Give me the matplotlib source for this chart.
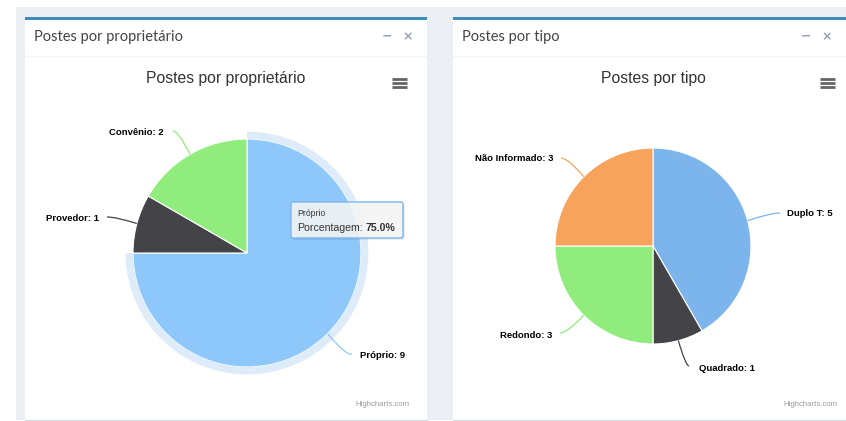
#!/usr/bin/env python3
"""Dashboard with two Highcharts-style pie panels (postes)."""

import math

import matplotlib

matplotlib.use("Agg")
import matplotlib.pyplot as plt
from matplotlib.patches import Rectangle, Wedge, FancyBboxPatch, PathPatch
from matplotlib.path import Path

# data
owner_labels = ["Próprio", "Provedor", "Convênio"]
owner_values = [9, 1, 2]
type_labels = ["Duplo T", "Quadrado", "Redondo", "Não Informado"]
type_values = [5, 1, 3, 3]

BLUE = "#7cb5ec"
BLUE_HOVER = "#8ec8fa"
DARK = "#434348"
GREEN = "#90ed7d"
ORANGE = "#f7a35c"
owner_colors = [BLUE_HOVER, DARK, GREEN]
type_colors = [BLUE, DARK, GREEN, ORANGE]

W, H = 846, 421
SPAN = 1.45
fig = plt.figure(figsize=(W / 100, H / 100), dpi=100)
fig.patch.set_facecolor("white")

bg = fig.add_axes([0, 0, 1, 1])
bg.set_xlim(0, W)
bg.set_ylim(H, 0)
bg.axis("off")

# page background + panels
bg.add_patch(Rectangle((16, 7), W - 16, 413, color="#ecf0f5", lw=0))
panels = [(25, 427, "Postes por proprietário"), (453, 846, "Postes por tipo")]
for x0, x1, title in panels:
    bg.add_patch(Rectangle((x0, 17), x1 - x0, 403, facecolor="white", edgecolor="none"))
    bg.add_patch(Rectangle((x0, 17), x1 - x0, 3, color="#3c8dbc", lw=0))
    bg.plot([x0, x1], [55.5, 55.5], color="#f4f4f4", lw=1)
    bg.plot([x0, x1], [420, 420], color="#d2d6de", lw=0.8)
    bg.text(x0 + 9, 37, title, fontsize=10.5, family="Lato", color="#444444", va="center")
    bg.text(x1 - 40, 36, "−", fontsize=9, color="#97a0b3", va="center", ha="center",
            fontweight="bold")
    bg.text(x1 - 19, 37, "×", fontsize=9, color="#97a0b3", va="center", ha="center",
            fontweight="bold")


def pie_axes(cx, cy, r):
    ax = fig.add_axes([(cx - SPAN * r) / W, (H - cy - SPAN * r) / H,
                       2 * SPAN * r / W, 2 * SPAN * r / H])
    ax.axis("off")
    return ax


def label(ax, wedge, text, pos, ha, elbow):
    mid = math.radians((wedge.theta1 + wedge.theta2) / 2)
    px, py = math.cos(mid), math.sin(mid)
    ctrl = (elbow[0] + 0.3 * (px - elbow[0]), elbow[1])
    conn = Path([elbow, ctrl, (px, py)], [Path.MOVETO, Path.CURVE3, Path.CURVE3])
    ax.add_patch(PathPatch(conn, facecolor="none", edgecolor=wedge.get_facecolor(),
                           lw=0.9, clip_on=False))
    ax.text(pos[0], pos[1], text, ha=ha, va="center", fontsize=6.8,
            fontweight="bold", family="Liberation Sans", color="#000000")


def chart(cx, cy, r, title, title_x, menu_x, credit_x, values, labels, colors,
          placements, halo=None):
    ax = pie_axes(cx, cy, r)
    wedges, _ = ax.pie(values, colors=colors, startangle=90, counterclock=False,
                       wedgeprops=dict(edgecolor="white", linewidth=0.8))
    ax.set_xlim(-SPAN, SPAN)
    ax.set_ylim(-SPAN, SPAN)
    if halo is not None:
        w = wedges[halo]
        ax.add_patch(Wedge((0, 0), 1.065, w.theta1, w.theta2, width=0.065,
                           facecolor=BLUE, alpha=0.25, lw=0))
    for w, lab, val, (pos, ha, elbow) in zip(wedges, labels, values, placements):
        label(ax, w, f"{lab}: {val}", pos, ha, elbow)
    bg.text(title_x, 78, title, ha="center", va="center",
            fontsize=11.3, family="Liberation Sans", color="#333333")
    for y in (78.5, 82.7, 86.8):
        bg.plot([menu_x, menu_x + 15], [y, y], color="#666666", lw=2.0,
                solid_capstyle="butt")
    bg.text(credit_x, 405, "Highcharts.com", ha="right", va="center", fontsize=5.6,
            family="Liberation Sans", color="#999999")
    return ax


owner_place = [
    ((0.99, -0.895), "left", (0.92, -0.89)),
    ((-1.298, 0.307), "right", (-1.228, 0.316)),
    ((-0.728, 1.053), "right", (-0.649, 1.07)),
]
type_place = [
    ((1.367, 0.327), "left", (1.296, 0.337)),
    ((0.469, -1.245), "left", (0.367, -1.224)),
    ((-1.031, -0.918), "right", (-0.949, -0.888)),
    ((-1.02, 0.888), "right", (-0.939, 0.898)),
]

chart(247, 253, 114, "Postes por proprietário", 226, 392, 409,
      owner_values, owner_labels, owner_colors, owner_place, halo=0)
chart(653, 246, 98, "Postes por tipo", 653, 820, 837,
      type_values, type_labels, type_colors, type_place)

# tooltip overlay
top = fig.add_axes([0, 0, 1, 1])
top.set_xlim(0, W)
top.set_ylim(H, 0)
top.axis("off")
top.patch.set_alpha(0)
top.add_patch(FancyBboxPatch((293, 204), 112, 36, boxstyle="round,pad=0,rounding_size=2",
                             facecolor="#000000", alpha=0.08, lw=0))
top.add_patch(FancyBboxPatch((291, 202), 112, 36, boxstyle="round,pad=0,rounding_size=2",
                             facecolor=(0.97, 0.97, 0.97, 0.88), edgecolor=BLUE, lw=1))
top.text(297, 214, "Próprio", fontsize=6.2, family="Liberation Sans", color="#333333",
         va="center")
t1 = top.text(297, 228, "Porcentagem:", fontsize=7.6, family="Liberation Sans",
              color="#333333", va="center")
top.annotate("75.0%", xy=(1, 0.5), xycoords=t1, xytext=(2.2, 0), textcoords="offset points",
             va="center", fontsize=7.6, fontweight="bold", family="Liberation Sans",
             color="#333333")

fig.savefig("out.png", dpi=100)
